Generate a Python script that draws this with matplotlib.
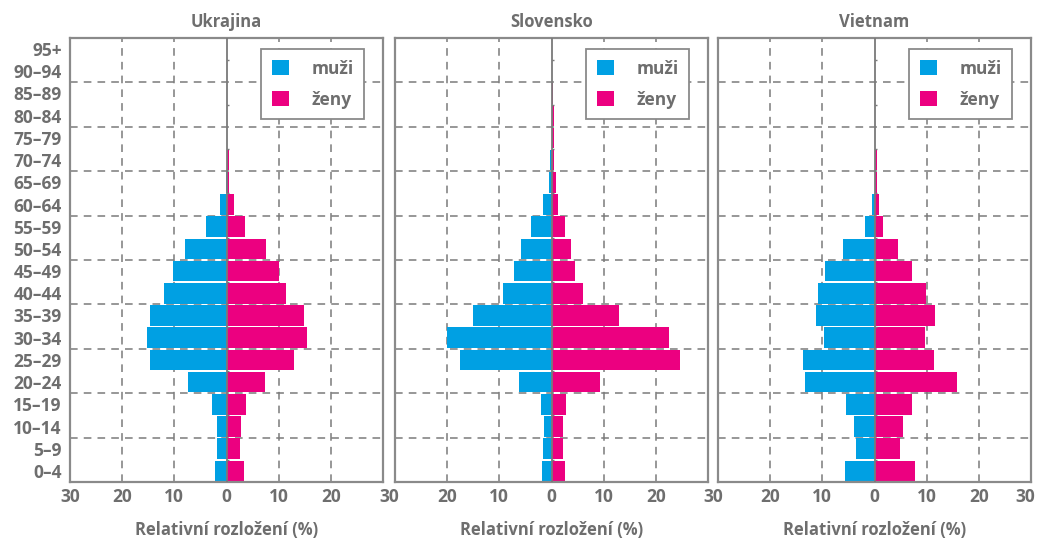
import matplotlib.pyplot as plt
import matplotlib.transforms as mtransforms
import numpy as np

age_groups = ['0–4', '5–9', '10–14', '15–19', '20–24', '25–29', '30–34', '35–39',
              '40–44', '45–49', '50–54', '55–59', '60–64', '65–69', '70–74',
              '75–79', '80–84', '85–89', '90–94', '95+']

countries = ['Ukrajina', 'Slovensko', 'Vietnam']

# % of population, youngest group first
ukr_men = [2.2, 1.8, 1.8, 2.8, 7.3, 14.6, 15.3, 14.6, 11.9, 10.2,
           7.9, 3.9, 1.3, 0.1, 0.0, 0, 0, 0, 0, 0]
ukr_women = [3.3, 2.5, 2.7, 3.8, 7.3, 13.0, 15.4, 14.8, 11.5, 10.1,
             7.6, 3.5, 1.4, 0.4, 0.5, 0, 0, 0, 0, 0]

svk_men = [1.8, 1.7, 1.5, 2.0, 6.3, 17.5, 20.1, 15.0, 9.3, 7.2,
           5.9, 4.0, 1.6, 0.4, 0.2, 0, 0, 0, 0, 0]
svk_women = [2.5, 2.3, 2.3, 2.7, 9.3, 24.6, 22.5, 12.9, 6.1, 4.5,
             3.7, 2.5, 1.3, 0.8, 0.5, 0.4, 0.4, 0.3, 0, 0]

vnm_men = [5.6, 3.5, 4.0, 5.4, 13.4, 13.8, 9.7, 11.3, 10.8, 9.5,
           6.0, 1.8, 0.5, 0, 0, 0, 0, 0, 0, 0]
vnm_women = [7.7, 4.8, 5.4, 7.2, 15.8, 11.5, 9.7, 11.6, 9.8, 7.1,
             4.6, 1.7, 0.9, 0.4, 0.4, 0, 0, 0, 0, 0]

men = [ukr_men, svk_men, vnm_men]
women = [ukr_women, svk_women, vnm_women]

x_ticks = [-30, -20, -10, 0, 10, 20, 30]
x_ticklabels = ['30', '20', '10', '0', '10', '20', '30']

blue = '#00a0e3'
pink = '#ec0080'
gray = '#6e6e6e'
frame_gray = '#8a8a8a'

plt.rcParams['font.family'] = ['Open Sans', 'DejaVu Sans']
plt.rcParams['font.weight'] = 'bold'

fig = plt.figure(figsize=(10.38, 5.4), dpi=100)
lefts = [70, 395, 718]
width = 313
bottom = 1 - 482 / 540
height = 444 / 540

y = np.arange(len(age_groups))
axes = []

for i, country in enumerate(countries):
    ax = fig.add_axes([lefts[i] / 1038, bottom, width / 1038, height])
    axes.append(ax)

    # grid
    for gx in [-20, -10, 10, 20]:
        ax.axvline(gx, color='#7a7a7a', lw=1.1, ls=(0, (5, 4)), zorder=1)
    for gy in np.arange(1.5, 18, 2):
        ax.axhline(gy, color='#7a7a7a', lw=1.1, ls=(0, (5, 4)), zorder=1)

    b1 = ax.barh(y, -np.array(men[i]), height=0.92, color=blue, zorder=2, label='muži')
    b2 = ax.barh(y, women[i], height=0.92, color=pink, zorder=2, label='ženy')

    # zero axis with small marks between age groups
    ax.axvline(0, color='#7a7a7a', lw=1.3, zorder=3)
    ax.hlines(np.arange(0.5, 19, 2), 0, 0.4, color='#7a7a7a', lw=1.0, zorder=3)

    ax.set_xlim(-30, 30)
    ax.set_ylim(-0.5, len(age_groups) - 0.5)
    ax.set_xticks(x_ticks)
    labels = list(x_ticklabels)
    # neighbouring panels share one "30" label, drawn between them
    if i > 0:
        labels[0] = ''
    if i < len(countries) - 1:
        labels[-1] = ''
    ax.set_xticklabels(labels)
    ax.set_yticks(y)
    if i == 0:
        ax.set_yticklabels(age_groups)
    else:
        ax.set_yticklabels([])
    ax.tick_params(length=0, labelsize=12.5, colors=gray, pad=6)
    ax.tick_params(axis='x', pad=4)

    for sp in ax.spines.values():
        sp.set_color(frame_gray)
        sp.set_linewidth(1.6)

    ax.set_title(country, fontsize=12, color=gray, pad=8, fontweight='bold')
    ax.set_xlabel('Relativní rozložení (%)', fontsize=12, color=gray, labelpad=11,
                  fontweight='bold')

    leg = ax.legend(handles=[b1, b2], loc='upper right', bbox_to_anchor=(0.94, 0.975),
                    fontsize=12.5, frameon=True, fancybox=False, handlelength=1.0,
                    handleheight=1.0, handletextpad=1.3, labelspacing=0.75,
                    borderpad=0.6, borderaxespad=0)
    leg.get_frame().set_edgecolor(frame_gray)
    leg.get_frame().set_linewidth(1.3)
    leg.get_frame().set_alpha(1)
    for t in leg.get_texts():
        t.set_color(gray)

# last "30" pulled in slightly so it stays inside the figure
last = axes[-1].get_xticklabels()[-1]
last.set_transform(last.get_transform() +
                   mtransforms.ScaledTranslation(-4 / 72, 0, fig.dpi_scale_trans))

# shared "30" labels between panels
for a, b in zip(axes[:-1], axes[1:]):
    xa = a.get_position().x1
    xb = b.get_position().x0
    fig.text((xa + xb) / 2, 0, '30', fontsize=12.5, color=gray, ha='center', va='top',
             transform=fig.transFigure)

fig.canvas.draw()
# align shared labels vertically with the tick labels
ref = axes[0].get_xticklabels()[0].get_window_extent()
ytop = ref.y1 / fig.bbox.height
for t in fig.texts:
    t.set_y(ytop)

fig.savefig('out.png', dpi=100)
